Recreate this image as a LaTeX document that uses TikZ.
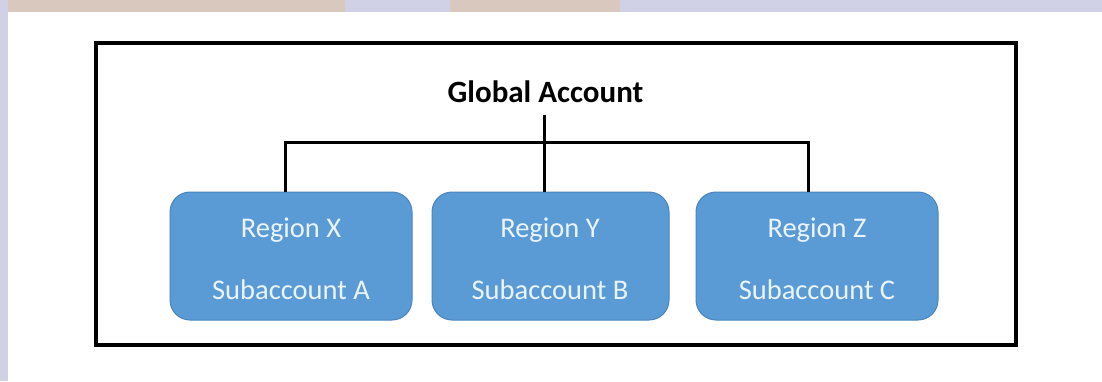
\documentclass[tikz,border=0pt]{standalone}
\usepackage{fontspec}
\setmainfont{Carlito}
\usepackage{graphicx}
\definecolor{boxfill}{HTML}{5B9BD5}
\definecolor{boxedge}{HTML}{4A84BE}
\definecolor{boxtext}{HTML}{EAF4FF}
\definecolor{lav}{HTML}{D0D1E7}
\definecolor{beige}{HTML}{D9C8BE}
\tikzset{
  regionbox/.style={draw=boxedge, line width=1pt, fill=boxfill, rounded corners=20pt,
    minimum width=242pt, minimum height=128pt, inner sep=0pt},
  boxlabel/.style={text=boxtext, font=\fontsize{28.5}{32}\selectfont, inner sep=0pt},
  titlelabel/.style={font=\bfseries\fontsize{31}{34}\selectfont, inner sep=0pt},
  tree/.style={line width=3pt, black},
  frame/.style={line width=3.2pt, black}
}
\begin{document}
\begin{tikzpicture}[x=1pt, y=-1pt]
\useasboundingbox (0,0) rectangle (1102,381);
\fill[white] (0,0) rectangle (1102,381);
% background strips
\fill[lav] (0,0) rectangle (8,381);
\fill[lav] (0,0) rectangle (1102,12);
\fill[beige] (8,0) rectangle (345,12);
\fill[beige] (450,0) rectangle (620,12);
% frame
\draw[frame] (96,43) rectangle (1016,345);
% title
\node[titlelabel] (ga) at (545.5,92) {Global Account};
% boxes
\node[regionbox] (bx) at (291,256) {};
\node[regionbox, minimum width=237pt] (by) at (550.5,256) {};
\node[regionbox] (bz) at (817,256) {};
\node[boxlabel] (tx1) at (291,230) {Region X};
\node[boxlabel] (tx2) at (291,290) {Subaccount A};
\node[boxlabel] (ty1) at (550,230) {Region Y};
\node[boxlabel] (ty2) at (550,290) {Subaccount B};
\node[boxlabel] (tz1) at (817,230) {Region Z};
\node[boxlabel] (tz2) at (817,290) {Subaccount C};
% tree connectors
\coordinate (hub) at (544,142);
\coordinate (top) at (544,115);
\draw[tree] (top) -- (by.north -| top);
\draw[tree] (285,192) |- (hub) -| (808,192);
\end{tikzpicture}
\end{document}
